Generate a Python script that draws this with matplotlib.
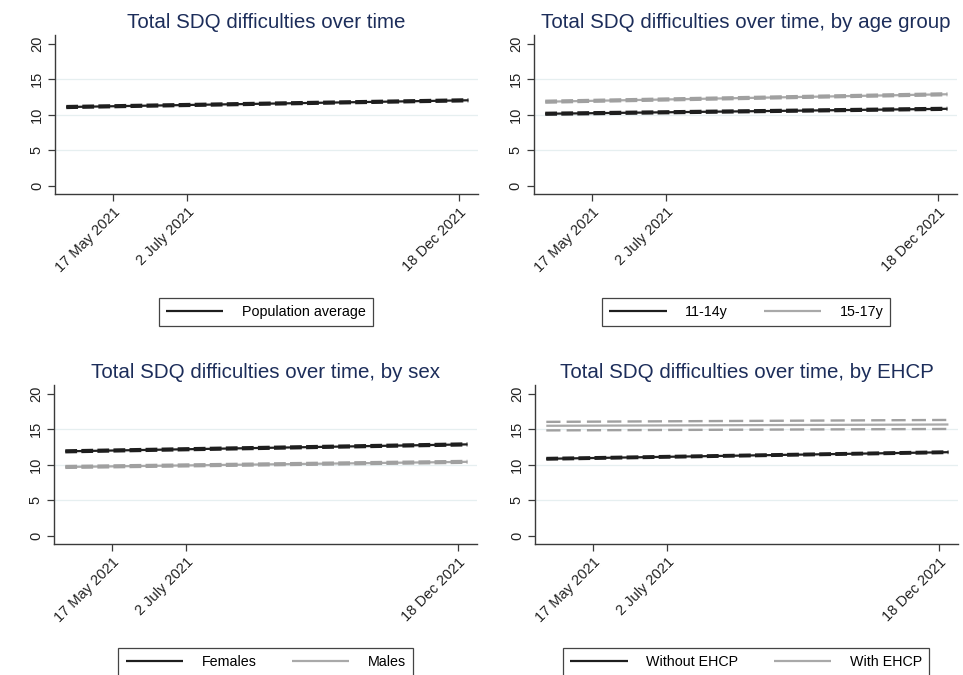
import numpy as np
import pandas as pd
import matplotlib
matplotlib.use("Agg")
import matplotlib.pyplot as plt

plt.rcParams['font.family'] = ['Liberation Sans', 'DejaVu Sans']

# fitted line (start, end) and 95% CI bounds
dates = pd.to_datetime(['2021-04-18', '2021-12-24'])

pop_est = [11.1, 12.05]
pop_lo = [10.97, 11.92]
pop_hi = [11.23, 12.18]

age1114_est = [10.15, 10.85]
age1114_lo = [10.02, 10.72]
age1114_hi = [10.28, 10.98]
age1517_est = [11.85, 12.9]
age1517_lo = [11.72, 12.77]
age1517_hi = [11.98, 13.03]

fem_est = [11.9, 12.88]
fem_lo = [11.77, 12.75]
fem_hi = [12.03, 13.01]
male_est = [9.7, 10.42]
male_lo = [9.57, 10.29]
male_hi = [9.83, 10.55]

noehcp_est = [10.85, 11.78]
noehcp_lo = [10.74, 11.67]
noehcp_hi = [10.96, 11.89]
ehcp_est = [15.5, 15.68]
ehcp_lo = [14.85, 15.05]
ehcp_hi = [16.05, 16.32]

tick_dates = pd.to_datetime(['2021-05-17', '2021-07-02', '2021-12-18'])
tick_labels = ['17 May 2021', '2 July 2021', '18 Dec 2021']
y_ticks = [0, 5, 10, 15, 20]
grid_y = [5, 10, 15]

BLACK = '#1e1e1e'
GREY = '#a9a9a9'
GREY_CI = '#a0a0a0'
NAVY = '#1c2d5a'
AXC = '#3a3a3a'

fig = plt.figure(figsize=(9.63, 6.75), dpi=100)

panels = [
    ([0.0571, 0.7126, 0.4393, 0.2356], 'Total SDQ difficulties over time',
     [('Population average', pop_est, pop_lo, pop_hi, BLACK, BLACK, (5, 1.8))],
     (0.276, 0.5585)),
    ([0.5545, 0.7126, 0.4393, 0.2356], 'Total SDQ difficulties over time, by age group',
     [('11-14y', age1114_est, age1114_lo, age1114_hi, BLACK, BLACK, (5, 1.8)),
      ('15-17y', age1517_est, age1517_lo, age1517_hi, GREY, GREY_CI, (5, 1.8))],
     (0.775, 0.5585)),
    ([0.0561, 0.1941, 0.4393, 0.2356], 'Total SDQ difficulties over time, by sex',
     [('Females', fem_est, fem_lo, fem_hi, BLACK, BLACK, (5, 1.8)),
      ('Males', male_est, male_lo, male_hi, GREY, GREY_CI, (5, 1.8))],
     (0.276, 0.04)),
    ([0.5556, 0.1941, 0.4393, 0.2356], 'Total SDQ difficulties over time, by EHCP',
     [('Without EHCP', noehcp_est, noehcp_lo, noehcp_hi, BLACK, BLACK, (5, 1.8)),
      ('With EHCP', ehcp_est, ehcp_lo, ehcp_hi, GREY, GREY_CI, (6, 2.6))],
     (0.775, 0.04)),
]

for rect, title, series, leg_pos in panels:
    ax = fig.add_axes(rect)
    for y in grid_y:
        ax.axhline(y, color='#e6eff0', lw=0.9, zorder=0)
    handles = []
    for label, est, lo, hi, col, cicol, dash in series:
        h, = ax.plot(dates, est, color=col, lw=1.6, solid_capstyle='butt', zorder=2)
        ax.plot(dates, lo, color=cicol, lw=1.7, linestyle=(0, dash), zorder=3)
        ax.plot(dates, hi, color=cicol, lw=1.7, linestyle=(0, dash), zorder=3)
        handles.append((h, label))

    ax.set_xlim(pd.Timestamp('2021-04-11'), pd.Timestamp('2021-12-30'))
    ax.set_ylim(-1.15, 21.25)
    ax.set_yticks(y_ticks)
    ax.set_yticklabels([str(v) for v in y_ticks], rotation=90, va='center',
                       fontsize=10.5, color='#222222')
    ax.set_xticks(tick_dates)
    ax.set_xticklabels(tick_labels, rotation=45, ha='right', rotation_mode='anchor',
                       fontsize=10.5, color='#222222')
    ax.tick_params(axis='both', length=5, width=0.9, color=AXC, pad=3)
    for s in ['top', 'right']:
        ax.spines[s].set_visible(False)
    for s in ['left', 'bottom']:
        ax.spines[s].set_color(AXC)
        ax.spines[s].set_linewidth(1.0)
    ax.set_title(title, color=NAVY, fontsize=14.8, pad=5)

    leg = ax.legend([h for h, _ in handles], [l for _, l in handles],
                    loc='upper center', bbox_to_anchor=leg_pos,
                    bbox_transform=fig.transFigure, ncol=len(handles),
                    fontsize=10.3, handlelength=4.0, handletextpad=1.3,
                    columnspacing=2.5, borderpad=0.5, borderaxespad=0,
                    fancybox=False, frameon=True, edgecolor='#444444',
                    framealpha=1)
    leg.get_frame().set_linewidth(0.9)

fig.savefig('out.png', dpi=100, facecolor='white')
